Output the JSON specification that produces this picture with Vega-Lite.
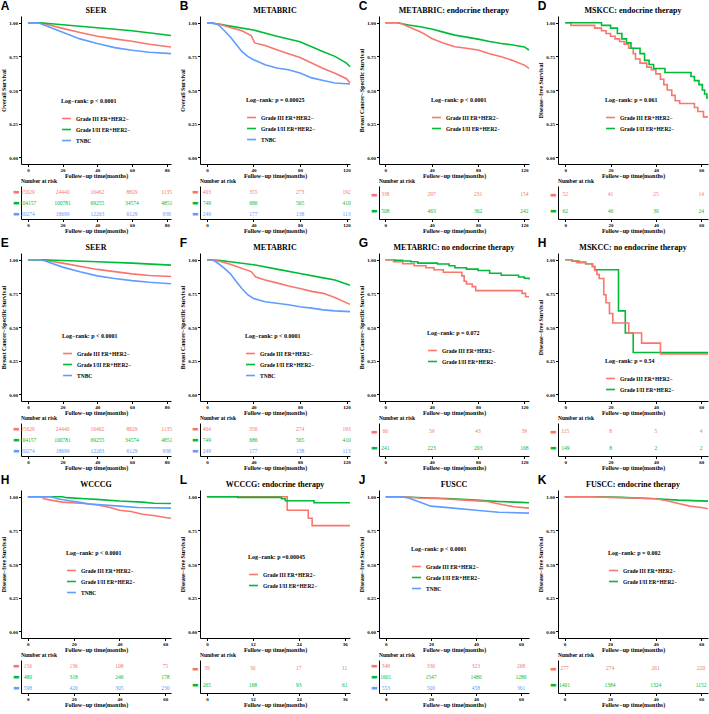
{
"$schema": "https://vega.github.io/schema/vega-lite/v6.json",
"padding": {"left": 0, "right": 0, "top": 0, "bottom": 0},
"background": "white",
"config": {
  "font": "Liberation Serif",
  "view": {"stroke": null},
  "axis": {"grid": false, "domainColor": "black", "tickColor": "black", "domainWidth": 1, "tickWidth": 1, "tickSize": 2.5,
    "labelFont": "Liberation Serif", "labelFontWeight": "bold", "labelFontSize": 5, "labelColor": "black", "labelPadding": 1,
    "titleFont": "Liberation Serif", "titleFontWeight": "bold", "titleFontSize": 6, "titleColor": "black"},
  "axisX": {"titlePadding": 0, "labelFlush": false},
  "axisY": {"titlePadding": 2},
  "title": {"font": "Liberation Serif", "fontWeight": "bold", "fontSize": 8, "color": "black", "offset": 1},
  "legend": {"orient": "none", "symbolType": "stroke", "symbolStrokeWidth": 2, "symbolSize": 80, "labelFont": "Liberation Serif", "labelFontWeight": "bold", "labelFontSize": 5.5, "labelColor": "black", "titleFont": "Liberation Serif", "titleFontSize": 6, "titleFontWeight": "bold", "titleColor": "black", "rowPadding": 2, "titlePadding": 9, "labelOffset": 4, "titleLimit": 300, "labelLimit": 300},
  "line": {"strokeWidth": 1.6, "clip": true},
  "text": {"font": "Liberation Serif", "fontSize": 5.5}
},
"datasets": {
"km": [
{"p":"A","g":"III","t":0,"s":1},{"p":"A","g":"III","t":7,"s":1},{"p":"A","g":"III","t":10,"s":0.99},{"p":"A","g":"III","t":20,"s":0.958},{"p":"A","g":"III","t":30,"s":0.927},{"p":"A","g":"III","t":40,"s":0.9},{"p":"A","g":"III","t":50,"s":0.88},{"p":"A","g":"III","t":60,"s":0.862},{"p":"A","g":"III","t":70,"s":0.84},{"p":"A","g":"III","t":82.5,"s":0.82},
{"p":"A","g":"I/II","t":0,"s":1},{"p":"A","g":"I/II","t":7,"s":1},{"p":"A","g":"I/II","t":20,"s":0.985},{"p":"A","g":"I/II","t":40,"s":0.963},{"p":"A","g":"I/II","t":60,"s":0.94},{"p":"A","g":"I/II","t":82.5,"s":0.905},
{"p":"A","g":"TNBC","t":0,"s":1},{"p":"A","g":"TNBC","t":6,"s":1},{"p":"A","g":"TNBC","t":10,"s":0.98},{"p":"A","g":"TNBC","t":20,"s":0.93},{"p":"A","g":"TNBC","t":30,"s":0.88},{"p":"A","g":"TNBC","t":40,"s":0.845},{"p":"A","g":"TNBC","t":50,"s":0.815},{"p":"A","g":"TNBC","t":60,"s":0.795},{"p":"A","g":"TNBC","t":70,"s":0.78},{"p":"A","g":"TNBC","t":82.5,"s":0.77},

{"p":"E","g":"III","t":0,"s":1},{"p":"E","g":"III","t":8,"s":1},{"p":"E","g":"III","t":20,"s":0.975},{"p":"E","g":"III","t":40,"s":0.928},{"p":"E","g":"III","t":60,"s":0.895},{"p":"E","g":"III","t":70,"s":0.883},{"p":"E","g":"III","t":82.5,"s":0.875},
{"p":"E","g":"I/II","t":0,"s":1},{"p":"E","g":"I/II","t":8,"s":1},{"p":"E","g":"I/II","t":40,"s":0.985},{"p":"E","g":"I/II","t":60,"s":0.975},{"p":"E","g":"I/II","t":82.5,"s":0.96},
{"p":"E","g":"TNBC","t":0,"s":1},{"p":"E","g":"TNBC","t":7,"s":1},{"p":"E","g":"TNBC","t":10,"s":0.99},{"p":"E","g":"TNBC","t":20,"s":0.945},{"p":"E","g":"TNBC","t":30,"s":0.91},{"p":"E","g":"TNBC","t":40,"s":0.88},{"p":"E","g":"TNBC","t":50,"s":0.86},{"p":"E","g":"TNBC","t":60,"s":0.845},{"p":"E","g":"TNBC","t":70,"s":0.833},{"p":"E","g":"TNBC","t":82.5,"s":0.822},

{"p":"B","g":"I/II","t":0,"s":1},{"p":"B","g":"I/II","t":10,"s":0.99},{"p":"B","g":"I/II","t":20,"s":0.975},{"p":"B","g":"I/II","t":40,"s":0.946},{"p":"B","g":"I/II","t":60,"s":0.9},{"p":"B","g":"I/II","t":80,"s":0.859},{"p":"B","g":"I/II","t":100,"s":0.785},{"p":"B","g":"I/II","t":110,"s":0.75},{"p":"B","g":"I/II","t":120,"s":0.7},{"p":"B","g":"I/II","t":123,"s":0.673},
{"p":"B","g":"III","t":0,"s":1},{"p":"B","g":"III","t":10,"s":0.99},{"p":"B","g":"III","t":20,"s":0.965},{"p":"B","g":"III","t":30,"s":0.94},{"p":"B","g":"III","t":38,"s":0.905},{"p":"B","g":"III","t":41,"s":0.85},{"p":"B","g":"III","t":50,"s":0.83},{"p":"B","g":"III","t":60,"s":0.8},{"p":"B","g":"III","t":70,"s":0.77},{"p":"B","g":"III","t":80,"s":0.742},{"p":"B","g":"III","t":90,"s":0.7},{"p":"B","g":"III","t":100,"s":0.66},{"p":"B","g":"III","t":110,"s":0.625},{"p":"B","g":"III","t":120,"s":0.584},{"p":"B","g":"III","t":123,"s":0.552},
{"p":"B","g":"TNBC","t":0,"s":1},{"p":"B","g":"TNBC","t":5,"s":1},{"p":"B","g":"TNBC","t":10,"s":0.983},{"p":"B","g":"TNBC","t":15,"s":0.94},{"p":"B","g":"TNBC","t":20,"s":0.896},{"p":"B","g":"TNBC","t":25,"s":0.84},{"p":"B","g":"TNBC","t":30,"s":0.787},{"p":"B","g":"TNBC","t":35,"s":0.75},{"p":"B","g":"TNBC","t":40,"s":0.725},{"p":"B","g":"TNBC","t":50,"s":0.688},{"p":"B","g":"TNBC","t":60,"s":0.663},{"p":"B","g":"TNBC","t":70,"s":0.65},{"p":"B","g":"TNBC","t":80,"s":0.626},{"p":"B","g":"TNBC","t":90,"s":0.59},{"p":"B","g":"TNBC","t":100,"s":0.57},{"p":"B","g":"TNBC","t":110,"s":0.552},{"p":"B","g":"TNBC","t":123,"s":0.545},

{"p":"F","g":"I/II","t":0,"s":1},{"p":"F","g":"I/II","t":10,"s":0.995},{"p":"F","g":"I/II","t":20,"s":0.985},{"p":"F","g":"I/II","t":40,"s":0.963},{"p":"F","g":"I/II","t":60,"s":0.93},{"p":"F","g":"I/II","t":80,"s":0.897},{"p":"F","g":"I/II","t":100,"s":0.865},{"p":"F","g":"I/II","t":110,"s":0.85},{"p":"F","g":"I/II","t":123,"s":0.811},
{"p":"F","g":"III","t":0,"s":1},{"p":"F","g":"III","t":10,"s":0.99},{"p":"F","g":"III","t":20,"s":0.966},{"p":"F","g":"III","t":38,"s":0.912},{"p":"F","g":"III","t":42,"s":0.872},{"p":"F","g":"III","t":50,"s":0.85},{"p":"F","g":"III","t":60,"s":0.828},{"p":"F","g":"III","t":70,"s":0.805},{"p":"F","g":"III","t":80,"s":0.786},{"p":"F","g":"III","t":90,"s":0.765},{"p":"F","g":"III","t":100,"s":0.75},{"p":"F","g":"III","t":110,"s":0.72},{"p":"F","g":"III","t":123,"s":0.668},
{"p":"F","g":"TNBC","t":0,"s":1},{"p":"F","g":"TNBC","t":5,"s":1},{"p":"F","g":"TNBC","t":10,"s":0.97},{"p":"F","g":"TNBC","t":15,"s":0.935},{"p":"F","g":"TNBC","t":20,"s":0.897},{"p":"F","g":"TNBC","t":25,"s":0.84},{"p":"F","g":"TNBC","t":30,"s":0.786},{"p":"F","g":"TNBC","t":35,"s":0.74},{"p":"F","g":"TNBC","t":40,"s":0.712},{"p":"F","g":"TNBC","t":50,"s":0.688},{"p":"F","g":"TNBC","t":60,"s":0.676},{"p":"F","g":"TNBC","t":70,"s":0.665},{"p":"F","g":"TNBC","t":80,"s":0.651},{"p":"F","g":"TNBC","t":90,"s":0.64},{"p":"F","g":"TNBC","t":100,"s":0.627},{"p":"F","g":"TNBC","t":110,"s":0.62},{"p":"F","g":"TNBC","t":123,"s":0.614},

{"p":"C","g":"I/II","t":0,"s":1},{"p":"C","g":"I/II","t":10,"s":1},{"p":"C","g":"I/II","t":20,"s":0.983},{"p":"C","g":"I/II","t":30,"s":0.97},{"p":"C","g":"I/II","t":40,"s":0.953},{"p":"C","g":"I/II","t":50,"s":0.93},{"p":"C","g":"I/II","t":60,"s":0.908},{"p":"C","g":"I/II","t":70,"s":0.893},{"p":"C","g":"I/II","t":80,"s":0.878},{"p":"C","g":"I/II","t":90,"s":0.86},{"p":"C","g":"I/II","t":100,"s":0.846},{"p":"C","g":"I/II","t":110,"s":0.835},{"p":"C","g":"I/II","t":120,"s":0.82},{"p":"C","g":"I/II","t":124,"s":0.797},
{"p":"C","g":"III","t":0,"s":1},{"p":"C","g":"III","t":12,"s":1},{"p":"C","g":"III","t":20,"s":0.97},{"p":"C","g":"III","t":30,"s":0.933},{"p":"C","g":"III","t":35,"s":0.91},{"p":"C","g":"III","t":40,"s":0.883},{"p":"C","g":"III","t":50,"s":0.85},{"p":"C","g":"III","t":60,"s":0.821},{"p":"C","g":"III","t":70,"s":0.81},{"p":"C","g":"III","t":80,"s":0.797},{"p":"C","g":"III","t":90,"s":0.77},{"p":"C","g":"III","t":100,"s":0.747},{"p":"C","g":"III","t":110,"s":0.72},{"p":"C","g":"III","t":120,"s":0.685},{"p":"C","g":"III","t":124,"s":0.66},

{"p":"G","g":"I/II","t":0,"s":1},{"p":"G","g":"I/II","t":8,"s":0.995},{"p":"G","g":"I/II","t":15,"s":0.99},{"p":"G","g":"I/II","t":22,"s":0.985},{"p":"G","g":"I/II","t":28,"s":0.975},{"p":"G","g":"I/II","t":45,"s":0.968},{"p":"G","g":"I/II","t":55,"s":0.955},{"p":"G","g":"I/II","t":60,"s":0.94},{"p":"G","g":"I/II","t":70,"s":0.93},{"p":"G","g":"I/II","t":80,"s":0.92},{"p":"G","g":"I/II","t":90,"s":0.9},{"p":"G","g":"I/II","t":100,"s":0.885},{"p":"G","g":"I/II","t":115,"s":0.872},{"p":"G","g":"I/II","t":120,"s":0.862},{"p":"G","g":"I/II","t":124,"s":0.853},
{"p":"G","g":"III","t":0,"s":1},{"p":"G","g":"III","t":7,"s":0.985},{"p":"G","g":"III","t":15,"s":0.97},{"p":"G","g":"III","t":25,"s":0.955},{"p":"G","g":"III","t":35,"s":0.94},{"p":"G","g":"III","t":42,"s":0.925},{"p":"G","g":"III","t":50,"s":0.907},{"p":"G","g":"III","t":66,"s":0.88},{"p":"G","g":"III","t":68,"s":0.84},{"p":"G","g":"III","t":70,"s":0.82},{"p":"G","g":"III","t":75,"s":0.8},{"p":"G","g":"III","t":78,"s":0.77},{"p":"G","g":"III","t":118,"s":0.75},{"p":"G","g":"III","t":121,"s":0.725},{"p":"G","g":"III","t":124,"s":0.725},

{"p":"D","g":"III","t":0,"s":1},{"p":"D","g":"III","t":2.5,"s":0.98},{"p":"D","g":"III","t":13,"s":0.96},{"p":"D","g":"III","t":16,"s":0.94},{"p":"D","g":"III","t":18,"s":0.92},{"p":"D","g":"III","t":20,"s":0.9},{"p":"D","g":"III","t":22,"s":0.88},{"p":"D","g":"III","t":24,"s":0.86},{"p":"D","g":"III","t":26,"s":0.84},{"p":"D","g":"III","t":28,"s":0.81},{"p":"D","g":"III","t":30,"s":0.77},{"p":"D","g":"III","t":31,"s":0.73},{"p":"D","g":"III","t":33,"s":0.7},{"p":"D","g":"III","t":36,"s":0.67},{"p":"D","g":"III","t":38,"s":0.65},{"p":"D","g":"III","t":40,"s":0.62},{"p":"D","g":"III","t":42,"s":0.58},{"p":"D","g":"III","t":43.5,"s":0.54},{"p":"D","g":"III","t":45,"s":0.5},{"p":"D","g":"III","t":47,"s":0.46},{"p":"D","g":"III","t":48.5,"s":0.42},{"p":"D","g":"III","t":50.5,"s":0.4},{"p":"D","g":"III","t":57,"s":0.37},{"p":"D","g":"III","t":58.5,"s":0.34},{"p":"D","g":"III","t":61,"s":0.3},{"p":"D","g":"III","t":63,"s":0.3},
{"p":"D","g":"I/II","t":0,"s":1},{"p":"D","g":"I/II","t":16,"s":0.98},{"p":"D","g":"I/II","t":20,"s":0.96},{"p":"D","g":"I/II","t":23,"s":0.92},{"p":"D","g":"I/II","t":25,"s":0.88},{"p":"D","g":"I/II","t":27,"s":0.85},{"p":"D","g":"I/II","t":29,"s":0.81},{"p":"D","g":"I/II","t":33,"s":0.77},{"p":"D","g":"I/II","t":35,"s":0.72},{"p":"D","g":"I/II","t":37,"s":0.69},{"p":"D","g":"I/II","t":39,"s":0.66},{"p":"D","g":"I/II","t":44,"s":0.63},{"p":"D","g":"I/II","t":55.5,"s":0.6},{"p":"D","g":"I/II","t":57,"s":0.57},{"p":"D","g":"I/II","t":59,"s":0.54},{"p":"D","g":"I/II","t":60.5,"s":0.5},{"p":"D","g":"I/II","t":61.5,"s":0.47},{"p":"D","g":"I/II","t":62.5,"s":0.44},{"p":"D","g":"I/II","t":63,"s":0.44},

{"p":"H","g":"I/II","t":0,"s":1},{"p":"H","g":"I/II","t":3,"s":0.99},{"p":"H","g":"I/II","t":6,"s":0.98},{"p":"H","g":"I/II","t":9,"s":0.97},{"p":"H","g":"I/II","t":12,"s":0.95},{"p":"H","g":"I/II","t":13,"s":0.925},{"p":"H","g":"I/II","t":23.5,"s":0.62},{"p":"H","g":"I/II","t":26.5,"s":0.455},{"p":"H","g":"I/II","t":30,"s":0.31},{"p":"H","g":"I/II","t":63,"s":0.31},
{"p":"H","g":"III","t":0,"s":1},{"p":"H","g":"III","t":3,"s":0.99},{"p":"H","g":"III","t":5,"s":0.98},{"p":"H","g":"III","t":9,"s":0.97},{"p":"H","g":"III","t":12,"s":0.95},{"p":"H","g":"III","t":13,"s":0.92},{"p":"H","g":"III","t":14,"s":0.89},{"p":"H","g":"III","t":15,"s":0.86},{"p":"H","g":"III","t":17,"s":0.74},{"p":"H","g":"III","t":18,"s":0.68},{"p":"H","g":"III","t":19.5,"s":0.6},{"p":"H","g":"III","t":21,"s":0.53},{"p":"H","g":"III","t":28,"s":0.455},{"p":"H","g":"III","t":33.7,"s":0.38},{"p":"H","g":"III","t":42,"s":0.3},{"p":"H","g":"III","t":63,"s":0.3},

{"p":"H2","g":"I/II","t":0,"s":1},{"p":"H2","g":"I/II","t":15,"s":1},{"p":"H2","g":"I/II","t":17,"s":0.993},{"p":"H2","g":"I/II","t":25,"s":0.985},{"p":"H2","g":"I/II","t":30,"s":0.98},{"p":"H2","g":"I/II","t":40,"s":0.968},{"p":"H2","g":"I/II","t":50,"s":0.96},{"p":"H2","g":"I/II","t":55,"s":0.952},{"p":"H2","g":"I/II","t":62.5,"s":0.95},
{"p":"H2","g":"III","t":0,"s":1},{"p":"H2","g":"III","t":6,"s":1},{"p":"H2","g":"III","t":7,"s":0.985},{"p":"H2","g":"III","t":10,"s":0.975},{"p":"H2","g":"III","t":15,"s":0.96},{"p":"H2","g":"III","t":25,"s":0.95},{"p":"H2","g":"III","t":30,"s":0.94},{"p":"H2","g":"III","t":36,"s":0.92},{"p":"H2","g":"III","t":40,"s":0.9},{"p":"H2","g":"III","t":45,"s":0.89},{"p":"H2","g":"III","t":50,"s":0.87},{"p":"H2","g":"III","t":55,"s":0.86},{"p":"H2","g":"III","t":60,"s":0.845},{"p":"H2","g":"III","t":62.5,"s":0.84},
{"p":"H2","g":"TNBC","t":0,"s":1},{"p":"H2","g":"TNBC","t":10,"s":1},{"p":"H2","g":"TNBC","t":13,"s":0.985},{"p":"H2","g":"TNBC","t":18,"s":0.97},{"p":"H2","g":"TNBC","t":22,"s":0.96},{"p":"H2","g":"TNBC","t":27,"s":0.945},{"p":"H2","g":"TNBC","t":32,"s":0.94},{"p":"H2","g":"TNBC","t":40,"s":0.93},{"p":"H2","g":"TNBC","t":48,"s":0.92},{"p":"H2","g":"TNBC","t":62.5,"s":0.915},

{"p":"L","g":"III","t":0,"s":1},{"p":"L","g":"III","t":21,"s":0.9},{"p":"L","g":"III","t":26.5,"s":0.84},{"p":"L","g":"III","t":27.5,"s":0.785},{"p":"L","g":"III","t":37.4,"s":0.785},
{"p":"L","g":"I/II","t":0,"s":1},{"p":"L","g":"I/II","t":8,"s":0.995},{"p":"L","g":"I/II","t":19.5,"s":0.985},{"p":"L","g":"I/II","t":20.5,"s":0.97},{"p":"L","g":"I/II","t":28,"s":0.955},{"p":"L","g":"I/II","t":37.4,"s":0.955},

{"p":"J","g":"I/II","t":0,"s":1},{"p":"J","g":"I/II","t":5,"s":1},{"p":"J","g":"I/II","t":20,"s":0.99},{"p":"J","g":"I/II","t":30,"s":0.985},{"p":"J","g":"I/II","t":40,"s":0.975},{"p":"J","g":"I/II","t":50,"s":0.965},{"p":"J","g":"I/II","t":60,"s":0.958},{"p":"J","g":"I/II","t":63.5,"s":0.955},
{"p":"J","g":"III","t":0,"s":1},{"p":"J","g":"III","t":8,"s":1},{"p":"J","g":"III","t":15,"s":0.99},{"p":"J","g":"III","t":25,"s":0.985},{"p":"J","g":"III","t":35,"s":0.975},{"p":"J","g":"III","t":45,"s":0.965},{"p":"J","g":"III","t":52,"s":0.94},{"p":"J","g":"III","t":57,"s":0.925},{"p":"J","g":"III","t":63.5,"s":0.915},
{"p":"J","g":"TNBC","t":0,"s":1},{"p":"J","g":"TNBC","t":7,"s":1},{"p":"J","g":"TNBC","t":10,"s":0.99},{"p":"J","g":"TNBC","t":15,"s":0.96},{"p":"J","g":"TNBC","t":20,"s":0.93},{"p":"J","g":"TNBC","t":30,"s":0.915},{"p":"J","g":"TNBC","t":40,"s":0.9},{"p":"J","g":"TNBC","t":50,"s":0.885},{"p":"J","g":"TNBC","t":63.5,"s":0.878},

{"p":"K","g":"I/II","t":0,"s":1},{"p":"K","g":"I/II","t":15,"s":1},{"p":"K","g":"I/II","t":25,"s":0.995},{"p":"K","g":"I/II","t":40,"s":0.985},{"p":"K","g":"I/II","t":50,"s":0.975},{"p":"K","g":"I/II","t":63,"s":0.967},
{"p":"K","g":"III","t":0,"s":1},{"p":"K","g":"III","t":12,"s":1},{"p":"K","g":"III","t":20,"s":0.995},{"p":"K","g":"III","t":30,"s":0.99},{"p":"K","g":"III","t":40,"s":0.985},{"p":"K","g":"III","t":45,"s":0.97},{"p":"K","g":"III","t":50,"s":0.95},{"p":"K","g":"III","t":55,"s":0.93},{"p":"K","g":"III","t":60,"s":0.92},{"p":"K","g":"III","t":63,"s":0.91}
],
"risk": [
{"p":"A","g":"III","t":0,"n":25629},{"p":"A","g":"III","t":20,"n":24440},{"p":"A","g":"III","t":40,"n":16462},{"p":"A","g":"III","t":60,"n":8829},{"p":"A","g":"III","t":80,"n":1135},
{"p":"A","g":"I/II","t":0,"n":104157},{"p":"A","g":"I/II","t":20,"n":100781},{"p":"A","g":"I/II","t":40,"n":69255},{"p":"A","g":"I/II","t":60,"n":34574},{"p":"A","g":"I/II","t":80,"n":4851},
{"p":"A","g":"TNBC","t":0,"n":20274},{"p":"A","g":"TNBC","t":20,"n":18699},{"p":"A","g":"TNBC","t":40,"n":12263},{"p":"A","g":"TNBC","t":60,"n":6129},{"p":"A","g":"TNBC","t":80,"n":938},
{"p":"E","g":"III","t":0,"n":25629},{"p":"E","g":"III","t":20,"n":24440},{"p":"E","g":"III","t":40,"n":16462},{"p":"E","g":"III","t":60,"n":8829},{"p":"E","g":"III","t":80,"n":1135},
{"p":"E","g":"I/II","t":0,"n":104157},{"p":"E","g":"I/II","t":20,"n":100781},{"p":"E","g":"I/II","t":40,"n":69255},{"p":"E","g":"I/II","t":60,"n":34574},{"p":"E","g":"I/II","t":80,"n":4851},
{"p":"E","g":"TNBC","t":0,"n":20274},{"p":"E","g":"TNBC","t":20,"n":18699},{"p":"E","g":"TNBC","t":40,"n":12263},{"p":"E","g":"TNBC","t":60,"n":6129},{"p":"E","g":"TNBC","t":80,"n":938},
{"p":"B","g":"III","t":0,"n":403},{"p":"B","g":"III","t":40,"n":355},{"p":"B","g":"III","t":80,"n":273},{"p":"B","g":"III","t":120,"n":192},
{"p":"B","g":"I/II","t":0,"n":749},{"p":"B","g":"I/II","t":40,"n":686},{"p":"B","g":"I/II","t":80,"n":565},{"p":"B","g":"I/II","t":120,"n":410},
{"p":"B","g":"TNBC","t":0,"n":249},{"p":"B","g":"TNBC","t":40,"n":177},{"p":"B","g":"TNBC","t":80,"n":138},{"p":"B","g":"TNBC","t":120,"n":113},
{"p":"F","g":"III","t":0,"n":404},{"p":"F","g":"III","t":40,"n":356},{"p":"F","g":"III","t":80,"n":274},{"p":"F","g":"III","t":120,"n":193},
{"p":"F","g":"I/II","t":0,"n":749},{"p":"F","g":"I/II","t":40,"n":686},{"p":"F","g":"I/II","t":80,"n":565},{"p":"F","g":"I/II","t":120,"n":410},
{"p":"F","g":"TNBC","t":0,"n":249},{"p":"F","g":"TNBC","t":40,"n":177},{"p":"F","g":"TNBC","t":80,"n":138},{"p":"F","g":"TNBC","t":120,"n":113},
{"p":"C","g":"III","t":0,"n":338},{"p":"C","g":"III","t":40,"n":297},{"p":"C","g":"III","t":80,"n":231},{"p":"C","g":"III","t":120,"n":154},
{"p":"C","g":"I/II","t":0,"n":508},{"p":"C","g":"I/II","t":40,"n":463},{"p":"C","g":"I/II","t":80,"n":362},{"p":"C","g":"I/II","t":120,"n":242},
{"p":"G","g":"III","t":0,"n":66},{"p":"G","g":"III","t":40,"n":59},{"p":"G","g":"III","t":80,"n":43},{"p":"G","g":"III","t":120,"n":39},
{"p":"G","g":"I/II","t":0,"n":241},{"p":"G","g":"I/II","t":40,"n":223},{"p":"G","g":"I/II","t":80,"n":203},{"p":"G","g":"I/II","t":120,"n":168},
{"p":"D","g":"III","t":0,"n":52},{"p":"D","g":"III","t":20,"n":41},{"p":"D","g":"III","t":40,"n":25},{"p":"D","g":"III","t":60,"n":14},
{"p":"D","g":"I/II","t":0,"n":62},{"p":"D","g":"I/II","t":20,"n":46},{"p":"D","g":"I/II","t":40,"n":30},{"p":"D","g":"I/II","t":60,"n":24},
{"p":"H","g":"III","t":0,"n":115},{"p":"H","g":"III","t":20,"n":8},{"p":"H","g":"III","t":40,"n":5},{"p":"H","g":"III","t":60,"n":4},
{"p":"H","g":"I/II","t":0,"n":149},{"p":"H","g":"I/II","t":20,"n":8},{"p":"H","g":"I/II","t":40,"n":2},{"p":"H","g":"I/II","t":60,"n":2},
{"p":"H2","g":"III","t":0,"n":156},{"p":"H2","g":"III","t":20,"n":136},{"p":"H2","g":"III","t":40,"n":108},{"p":"H2","g":"III","t":60,"n":75},
{"p":"H2","g":"I/II","t":0,"n":480},{"p":"H2","g":"I/II","t":20,"n":318},{"p":"H2","g":"I/II","t":40,"n":246},{"p":"H2","g":"I/II","t":60,"n":178},
{"p":"H2","g":"TNBC","t":0,"n":598},{"p":"H2","g":"TNBC","t":20,"n":420},{"p":"H2","g":"TNBC","t":40,"n":305},{"p":"H2","g":"TNBC","t":60,"n":230},
{"p":"L","g":"III","t":0,"n":39},{"p":"L","g":"III","t":12,"n":30},{"p":"L","g":"III","t":24,"n":17},{"p":"L","g":"III","t":36,"n":11},
{"p":"L","g":"I/II","t":0,"n":265},{"p":"L","g":"I/II","t":12,"n":168},{"p":"L","g":"I/II","t":24,"n":93},{"p":"L","g":"I/II","t":36,"n":61},
{"p":"J","g":"III","t":0,"n":348},{"p":"J","g":"III","t":20,"n":336},{"p":"J","g":"III","t":40,"n":323},{"p":"J","g":"III","t":60,"n":268},
{"p":"J","g":"I/II","t":0,"n":1601},{"p":"J","g":"I/II","t":20,"n":1547},{"p":"J","g":"I/II","t":40,"n":1480},{"p":"J","g":"I/II","t":60,"n":1280},
{"p":"J","g":"TNBC","t":0,"n":553},{"p":"J","g":"TNBC","t":20,"n":500},{"p":"J","g":"TNBC","t":40,"n":458},{"p":"J","g":"TNBC","t":60,"n":361},
{"p":"K","g":"III","t":0,"n":277},{"p":"K","g":"III","t":20,"n":274},{"p":"K","g":"III","t":40,"n":261},{"p":"K","g":"III","t":60,"n":220},
{"p":"K","g":"I/II","t":0,"n":1401},{"p":"K","g":"I/II","t":20,"n":1384},{"p":"K","g":"I/II","t":40,"n":1324},{"p":"K","g":"I/II","t":60,"n":1152}
]
},
"spacing": 3,
"resolve": {"scale": {"color": "independent"}, "legend": {"color": "independent"}},
"vconcat": [
{"spacing": 4, "resolve": {"scale": {"color": "independent"}, "legend": {"color": "independent"}}, "hconcat": [
 {"title": {"text": "A", "anchor": "start", "font": "Liberation Sans", "fontSize": 12, "fontWeight": "bold", "offset": -6},
  "spacing": 22, "bounds": "flush", "resolve": {"scale": {"color": "independent"}, "legend": {"color": "independent"}},
  "vconcat": [
   {"title": "SEER", "width": 150, "height": 148, "data": {"name": "km"}, "transform": [{"filter": "datum.p === 'A'"}],
    "mark": {"type": "line", "interpolate": "linear"},
    "encoding": {
     "x": {"field": "t", "type": "quantitative", "scale": {"domain": [-4, 82.5], "nice": false, "zero": false}, "axis": {"values": [0,20,40,60,80], "title": "Follow−up time(months)"}},
     "y": {"field": "s", "type": "quantitative", "scale": {"domain": [-0.05, 1.05], "nice": false, "zero": false}, "axis": {"values": [0,0.25,0.5,0.75,1], "format": ".2f", "title": "Overall Survival"}},
     "color": {"field": "g", "type": "nominal", "scale": {"domain": ["III","I/II","TNBC"], "range": ["#F8766D","#00BA38","#619CFF"]}, "legend": {"title": "Log−rank: p < 0.0001", "legendX": 40, "legendY": 82, "labelExpr": "datum.label == 'TNBC' ? 'TNBC' : 'Grade ' + datum.label + ' ER+HER2−'"}}}},
   {"title": {"text": "Number at risk", "anchor": "start", "frame": "group", "fontSize": 5.5, "offset": 2},
    "width": 150, "height": 33, "data": {"name": "risk"}, "transform": [{"filter": "datum.p === 'A'"}],
    "mark": {"type": "text"},
    "encoding": {
     "x": {"field": "t", "type": "quantitative", "scale": {"domain": [-4, 82.5], "nice": false, "zero": false}, "axis": {"values": [0,20,40,60,80], "title": "Follow−up time(months)"}},
     "y": {"field": "g", "type": "nominal", "scale": {"domain": ["III","I/II","TNBC"]}, "axis": {"title": null, "ticks": false, "labelExpr": "'▬'", "labelFont": "DejaVu Sans", "labelFontSize": 7, "labelPadding": 2, "labelColor": {"condition": [{"test": "datum.value === 'III'", "value": "#F8766D"}, {"test": "datum.value === 'TNBC'", "value": "#619CFF"}], "value": "#00BA38"}}},
     "text": {"field": "n", "type": "quantitative", "format": "d"},
     "color": {"field": "g", "type": "nominal", "scale": {"domain": ["III","I/II","TNBC"], "range": ["#F8766D","#00BA38","#619CFF"]}, "legend": null}}}
  ]},
 {"title": {"text": "B", "anchor": "start", "font": "Liberation Sans", "fontSize": 12, "fontWeight": "bold", "offset": -6},
  "spacing": 22, "bounds": "flush", "resolve": {"scale": {"color": "independent"}, "legend": {"color": "independent"}},
  "vconcat": [
   {"title": "METABRIC", "width": 150, "height": 148, "data": {"name": "km"}, "transform": [{"filter": "datum.p === 'B'"}],
    "mark": {"type": "line", "interpolate": "linear"},
    "encoding": {
     "x": {"field": "t", "type": "quantitative", "scale": {"domain": [-6, 123], "nice": false, "zero": false}, "axis": {"values": [0,40,80,120], "title": "Follow−up time(months)"}},
     "y": {"field": "s", "type": "quantitative", "scale": {"domain": [-0.05, 1.05], "nice": false, "zero": false}, "axis": {"values": [0,0.25,0.5,0.75,1], "format": ".2f", "title": "Overall Survival"}},
     "color": {"field": "g", "type": "nominal", "scale": {"domain": ["III","I/II","TNBC"], "range": ["#F8766D","#00BA38","#619CFF"]}, "legend": {"title": "Log−rank: p = 0.00025", "legendX": 46, "legendY": 81, "labelExpr": "datum.label == 'TNBC' ? 'TNBC' : 'Grade ' + datum.label + ' ER+HER2−'"}}}},
   {"title": {"text": "Number at risk", "anchor": "start", "frame": "group", "fontSize": 5.5, "offset": 2},
    "width": 150, "height": 33, "data": {"name": "risk"}, "transform": [{"filter": "datum.p === 'B'"}],
    "mark": {"type": "text"},
    "encoding": {
     "x": {"field": "t", "type": "quantitative", "scale": {"domain": [-6, 123], "nice": false, "zero": false}, "axis": {"values": [0,40,80,120], "title": "Follow−up time(months)"}},
     "y": {"field": "g", "type": "nominal", "scale": {"domain": ["III","I/II","TNBC"]}, "axis": {"title": null, "ticks": false, "labelExpr": "'▬'", "labelFont": "DejaVu Sans", "labelFontSize": 7, "labelPadding": 2, "labelColor": {"condition": [{"test": "datum.value === 'III'", "value": "#F8766D"}, {"test": "datum.value === 'TNBC'", "value": "#619CFF"}], "value": "#00BA38"}}},
     "text": {"field": "n", "type": "quantitative", "format": "d"},
     "color": {"field": "g", "type": "nominal", "scale": {"domain": ["III","I/II","TNBC"], "range": ["#F8766D","#00BA38","#619CFF"]}, "legend": null}}}
  ]},
 {"title": {"text": "C", "anchor": "start", "font": "Liberation Sans", "fontSize": 12, "fontWeight": "bold", "offset": -6},
  "spacing": 22, "bounds": "flush", "resolve": {"scale": {"color": "independent"}, "legend": {"color": "independent"}},
  "vconcat": [
   {"title": "METABRIC: endocrine therapy", "width": 150, "height": 148, "data": {"name": "km"}, "transform": [{"filter": "datum.p === 'C'"}],
    "mark": {"type": "line", "interpolate": "linear"},
    "encoding": {
     "x": {"field": "t", "type": "quantitative", "scale": {"domain": [-5.5, 124], "nice": false, "zero": false}, "axis": {"values": [0,40,80,120], "title": "Follow−up time(months)"}},
     "y": {"field": "s", "type": "quantitative", "scale": {"domain": [-0.05, 1.05], "nice": false, "zero": false}, "axis": {"values": [0,0.25,0.5,0.75,1], "format": ".2f", "title": "Breast Cancer−Specific Survival"}},
     "color": {"field": "g", "type": "nominal", "scale": {"domain": ["III","I/II"], "range": ["#F8766D","#00BA38"]}, "legend": {"title": "Log−rank: p < 0.0001", "legendX": 52, "legendY": 81, "labelExpr": "'Grade ' + datum.label + ' ER+HER2−'"}}}},
   {"title": {"text": "Number at risk", "anchor": "start", "frame": "group", "fontSize": 5.5, "offset": 2},
    "width": 150, "height": 33, "data": {"name": "risk"}, "transform": [{"filter": "datum.p === 'C'"}],
    "mark": {"type": "text"},
    "encoding": {
     "x": {"field": "t", "type": "quantitative", "scale": {"domain": [-5.5, 124], "nice": false, "zero": false}, "axis": {"values": [0,40,80,120], "title": "Follow−up time(months)"}},
     "y": {"field": "g", "type": "nominal", "scale": {"domain": ["III","I/II"]}, "axis": {"title": null, "ticks": false, "labelExpr": "'▬'", "labelFont": "DejaVu Sans", "labelFontSize": 7, "labelPadding": 2, "labelColor": {"condition": [{"test": "datum.value === 'III'", "value": "#F8766D"}], "value": "#00BA38"}}},
     "text": {"field": "n", "type": "quantitative", "format": "d"},
     "color": {"field": "g", "type": "nominal", "scale": {"domain": ["III","I/II"], "range": ["#F8766D","#00BA38"]}, "legend": null}}}
  ]},
 {"title": {"text": "D", "anchor": "start", "font": "Liberation Sans", "fontSize": 12, "fontWeight": "bold", "offset": -6},
  "spacing": 22, "bounds": "flush", "resolve": {"scale": {"color": "independent"}, "legend": {"color": "independent"}},
  "vconcat": [
   {"title": "MSKCC: endocrine therapy", "width": 150, "height": 148, "data": {"name": "km"}, "transform": [{"filter": "datum.p === 'D'"}],
    "mark": {"type": "line", "interpolate": "step-after"},
    "encoding": {
     "x": {"field": "t", "type": "quantitative", "scale": {"domain": [-3.2, 63], "nice": false, "zero": false}, "axis": {"values": [0,20,40,60], "title": "Follow−up time(months)"}},
     "y": {"field": "s", "type": "quantitative", "scale": {"domain": [-0.05, 1.05], "nice": false, "zero": false}, "axis": {"values": [0,0.25,0.5,0.75,1], "format": ".2f", "title": "Disease−free Survival"}},
     "color": {"field": "g", "type": "nominal", "scale": {"domain": ["III","I/II"], "range": ["#F8766D","#00BA38"]}, "legend": {"title": "Log−rank: p = 0.061", "legendX": 47, "legendY": 81, "labelExpr": "'Grade ' + datum.label + ' ER+HER2−'"}}}},
   {"title": {"text": "Number at risk", "anchor": "start", "frame": "group", "fontSize": 5.5, "offset": 2},
    "width": 150, "height": 33, "data": {"name": "risk"}, "transform": [{"filter": "datum.p === 'D'"}],
    "mark": {"type": "text"},
    "encoding": {
     "x": {"field": "t", "type": "quantitative", "scale": {"domain": [-3.2, 63], "nice": false, "zero": false}, "axis": {"values": [0,20,40,60], "title": "Follow−up time(months)"}},
     "y": {"field": "g", "type": "nominal", "scale": {"domain": ["III","I/II"]}, "axis": {"title": null, "ticks": false, "labelExpr": "'▬'", "labelFont": "DejaVu Sans", "labelFontSize": 7, "labelPadding": 2, "labelColor": {"condition": [{"test": "datum.value === 'III'", "value": "#F8766D"}], "value": "#00BA38"}}},
     "text": {"field": "n", "type": "quantitative", "format": "d"},
     "color": {"field": "g", "type": "nominal", "scale": {"domain": ["III","I/II"], "range": ["#F8766D","#00BA38"]}, "legend": null}}}
  ]}
]},
{"spacing": 4, "resolve": {"scale": {"color": "independent"}, "legend": {"color": "independent"}}, "hconcat": [
 {"title": {"text": "E", "anchor": "start", "font": "Liberation Sans", "fontSize": 12, "fontWeight": "bold", "offset": -6},
  "spacing": 22, "bounds": "flush", "resolve": {"scale": {"color": "independent"}, "legend": {"color": "independent"}},
  "vconcat": [
   {"title": "SEER", "width": 150, "height": 148, "data": {"name": "km"}, "transform": [{"filter": "datum.p === 'E'"}],
    "mark": {"type": "line", "interpolate": "linear"},
    "encoding": {
     "x": {"field": "t", "type": "quantitative", "scale": {"domain": [-4, 82.5], "nice": false, "zero": false}, "axis": {"values": [0,20,40,60,80], "title": "Follow−up time(months)"}},
     "y": {"field": "s", "type": "quantitative", "scale": {"domain": [-0.05, 1.05], "nice": false, "zero": false}, "axis": {"values": [0,0.25,0.5,0.75,1], "format": ".2f", "title": "Breast Cancer−Specific Survival"}},
     "color": {"field": "g", "type": "nominal", "scale": {"domain": ["III","I/II","TNBC"], "range": ["#F8766D","#00BA38","#619CFF"]}, "legend": {"title": "Log−rank: p < 0.0001", "legendX": 41, "legendY": 80, "labelExpr": "datum.label == 'TNBC' ? 'TNBC' : 'Grade ' + datum.label + ' ER+HER2−'"}}}},
   {"title": {"text": "Number at risk", "anchor": "start", "frame": "group", "fontSize": 5.5, "offset": 2},
    "width": 150, "height": 33, "data": {"name": "risk"}, "transform": [{"filter": "datum.p === 'E'"}],
    "mark": {"type": "text"},
    "encoding": {
     "x": {"field": "t", "type": "quantitative", "scale": {"domain": [-4, 82.5], "nice": false, "zero": false}, "axis": {"values": [0,20,40,60,80], "title": "Follow−up time(months)"}},
     "y": {"field": "g", "type": "nominal", "scale": {"domain": ["III","I/II","TNBC"]}, "axis": {"title": null, "ticks": false, "labelExpr": "'▬'", "labelFont": "DejaVu Sans", "labelFontSize": 7, "labelPadding": 2, "labelColor": {"condition": [{"test": "datum.value === 'III'", "value": "#F8766D"}, {"test": "datum.value === 'TNBC'", "value": "#619CFF"}], "value": "#00BA38"}}},
     "text": {"field": "n", "type": "quantitative", "format": "d"},
     "color": {"field": "g", "type": "nominal", "scale": {"domain": ["III","I/II","TNBC"], "range": ["#F8766D","#00BA38","#619CFF"]}, "legend": null}}}
  ]},
 {"title": {"text": "F", "anchor": "start", "font": "Liberation Sans", "fontSize": 12, "fontWeight": "bold", "offset": -6},
  "spacing": 22, "bounds": "flush", "resolve": {"scale": {"color": "independent"}, "legend": {"color": "independent"}},
  "vconcat": [
   {"title": "METABRIC", "width": 150, "height": 148, "data": {"name": "km"}, "transform": [{"filter": "datum.p === 'F'"}],
    "mark": {"type": "line", "interpolate": "linear"},
    "encoding": {
     "x": {"field": "t", "type": "quantitative", "scale": {"domain": [-6, 123], "nice": false, "zero": false}, "axis": {"values": [0,40,80,120], "title": "Follow−up time(months)"}},
     "y": {"field": "s", "type": "quantitative", "scale": {"domain": [-0.05, 1.05], "nice": false, "zero": false}, "axis": {"values": [0,0.25,0.5,0.75,1], "format": ".2f", "title": "Breast Cancer−Specific Survival"}},
     "color": {"field": "g", "type": "nominal", "scale": {"domain": ["III","I/II","TNBC"], "range": ["#F8766D","#00BA38","#619CFF"]}, "legend": {"title": "Log−rank: p < 0.0001", "legendX": 45, "legendY": 80, "labelExpr": "datum.label == 'TNBC' ? 'TNBC' : 'Grade ' + datum.label + ' ER+HER2−'"}}}},
   {"title": {"text": "Number at risk", "anchor": "start", "frame": "group", "fontSize": 5.5, "offset": 2},
    "width": 150, "height": 33, "data": {"name": "risk"}, "transform": [{"filter": "datum.p === 'F'"}],
    "mark": {"type": "text"},
    "encoding": {
     "x": {"field": "t", "type": "quantitative", "scale": {"domain": [-6, 123], "nice": false, "zero": false}, "axis": {"values": [0,40,80,120], "title": "Follow−up time(months)"}},
     "y": {"field": "g", "type": "nominal", "scale": {"domain": ["III","I/II","TNBC"]}, "axis": {"title": null, "ticks": false, "labelExpr": "'▬'", "labelFont": "DejaVu Sans", "labelFontSize": 7, "labelPadding": 2, "labelColor": {"condition": [{"test": "datum.value === 'III'", "value": "#F8766D"}, {"test": "datum.value === 'TNBC'", "value": "#619CFF"}], "value": "#00BA38"}}},
     "text": {"field": "n", "type": "quantitative", "format": "d"},
     "color": {"field": "g", "type": "nominal", "scale": {"domain": ["III","I/II","TNBC"], "range": ["#F8766D","#00BA38","#619CFF"]}, "legend": null}}}
  ]},
 {"title": {"text": "G", "anchor": "start", "font": "Liberation Sans", "fontSize": 12, "fontWeight": "bold", "offset": -6},
  "spacing": 22, "bounds": "flush", "resolve": {"scale": {"color": "independent"}, "legend": {"color": "independent"}},
  "vconcat": [
   {"title": "METABRIC: no endocrine therapy", "width": 150, "height": 148, "data": {"name": "km"}, "transform": [{"filter": "datum.p === 'G'"}],
    "mark": {"type": "line", "interpolate": "step-after"},
    "encoding": {
     "x": {"field": "t", "type": "quantitative", "scale": {"domain": [-5.5, 124], "nice": false, "zero": false}, "axis": {"values": [0,40,80,120], "title": "Follow−up time(months)"}},
     "y": {"field": "s", "type": "quantitative", "scale": {"domain": [-0.05, 1.05], "nice": false, "zero": false}, "axis": {"values": [0,0.25,0.5,0.75,1], "format": ".2f", "title": "Breast Cancer−Specific Survival"}},
     "color": {"field": "g", "type": "nominal", "scale": {"domain": ["III","I/II"], "range": ["#F8766D","#00BA38"]}, "legend": {"title": "Log−rank: p = 0.072", "legendX": 48, "legendY": 77, "labelExpr": "'Grade ' + datum.label + ' ER+HER2−'"}}}},
   {"title": {"text": "Number at risk", "anchor": "start", "frame": "group", "fontSize": 5.5, "offset": 2},
    "width": 150, "height": 33, "data": {"name": "risk"}, "transform": [{"filter": "datum.p === 'G'"}],
    "mark": {"type": "text"},
    "encoding": {
     "x": {"field": "t", "type": "quantitative", "scale": {"domain": [-5.5, 124], "nice": false, "zero": false}, "axis": {"values": [0,40,80,120], "title": "Follow−up time(months)"}},
     "y": {"field": "g", "type": "nominal", "scale": {"domain": ["III","I/II"]}, "axis": {"title": null, "ticks": false, "labelExpr": "'▬'", "labelFont": "DejaVu Sans", "labelFontSize": 7, "labelPadding": 2, "labelColor": {"condition": [{"test": "datum.value === 'III'", "value": "#F8766D"}], "value": "#00BA38"}}},
     "text": {"field": "n", "type": "quantitative", "format": "d"},
     "color": {"field": "g", "type": "nominal", "scale": {"domain": ["III","I/II"], "range": ["#F8766D","#00BA38"]}, "legend": null}}}
  ]},
 {"title": {"text": "H", "anchor": "start", "font": "Liberation Sans", "fontSize": 12, "fontWeight": "bold", "offset": -6},
  "spacing": 22, "bounds": "flush", "resolve": {"scale": {"color": "independent"}, "legend": {"color": "independent"}},
  "vconcat": [
   {"title": "MSKCC: no endocrine therapy", "width": 150, "height": 148, "data": {"name": "km"}, "transform": [{"filter": "datum.p === 'H'"}],
    "mark": {"type": "line", "interpolate": "step-after"},
    "encoding": {
     "x": {"field": "t", "type": "quantitative", "scale": {"domain": [-3.2, 63], "nice": false, "zero": false}, "axis": {"values": [0,20,40,60], "title": "Follow−up time(months)"}},
     "y": {"field": "s", "type": "quantitative", "scale": {"domain": [-0.05, 1.05], "nice": false, "zero": false}, "axis": {"values": [0,0.25,0.5,0.75,1], "format": ".2f", "title": "Disease−free Survival"}},
     "color": {"field": "g", "type": "nominal", "scale": {"domain": ["III","I/II"], "range": ["#F8766D","#00BA38"]}, "legend": {"title": "Log−rank: p = 0.54", "legendX": 47, "legendY": 105, "labelExpr": "'Grade ' + datum.label + ' ER+HER2−'"}}}},
   {"title": {"text": "Number at risk", "anchor": "start", "frame": "group", "fontSize": 5.5, "offset": 2},
    "width": 150, "height": 33, "data": {"name": "risk"}, "transform": [{"filter": "datum.p === 'H'"}],
    "mark": {"type": "text"},
    "encoding": {
     "x": {"field": "t", "type": "quantitative", "scale": {"domain": [-3.2, 63], "nice": false, "zero": false}, "axis": {"values": [0,20,40,60], "title": "Follow−up time(months)"}},
     "y": {"field": "g", "type": "nominal", "scale": {"domain": ["III","I/II"]}, "axis": {"title": null, "ticks": false, "labelExpr": "'▬'", "labelFont": "DejaVu Sans", "labelFontSize": 7, "labelPadding": 2, "labelColor": {"condition": [{"test": "datum.value === 'III'", "value": "#F8766D"}], "value": "#00BA38"}}},
     "text": {"field": "n", "type": "quantitative", "format": "d"},
     "color": {"field": "g", "type": "nominal", "scale": {"domain": ["III","I/II"], "range": ["#F8766D","#00BA38"]}, "legend": null}}}
  ]}
]},
{"spacing": 4, "resolve": {"scale": {"color": "independent"}, "legend": {"color": "independent"}}, "hconcat": [
 {"title": {"text": "H", "anchor": "start", "font": "Liberation Sans", "fontSize": 12, "fontWeight": "bold", "offset": -6},
  "spacing": 22, "bounds": "flush", "resolve": {"scale": {"color": "independent"}, "legend": {"color": "independent"}},
  "vconcat": [
   {"title": "WCCCG", "width": 150, "height": 148, "data": {"name": "km"}, "transform": [{"filter": "datum.p === 'H2'"}],
    "mark": {"type": "line", "interpolate": "linear"},
    "encoding": {
     "x": {"field": "t", "type": "quantitative", "scale": {"domain": [-3, 62.5], "nice": false, "zero": false}, "axis": {"values": [0,20,40,60], "title": "Follow−up time(months)"}},
     "y": {"field": "s", "type": "quantitative", "scale": {"domain": [-0.05, 1.05], "nice": false, "zero": false}, "axis": {"values": [0,0.25,0.5,0.75,1], "format": ".2f", "title": "Disease−free Survival"}},
     "color": {"field": "g", "type": "nominal", "scale": {"domain": ["III","I/II","TNBC"], "range": ["#F8766D","#00BA38","#619CFF"]}, "legend": {"title": "Log−rank: p < 0.0001", "legendX": 45, "legendY": 60, "labelExpr": "datum.label == 'TNBC' ? 'TNBC' : 'Grade ' + datum.label + ' ER+HER2−'"}}}},
   {"title": {"text": "Number at risk", "anchor": "start", "frame": "group", "fontSize": 5.5, "offset": 2},
    "width": 150, "height": 33, "data": {"name": "risk"}, "transform": [{"filter": "datum.p === 'H2'"}],
    "mark": {"type": "text"},
    "encoding": {
     "x": {"field": "t", "type": "quantitative", "scale": {"domain": [-3, 62.5], "nice": false, "zero": false}, "axis": {"values": [0,20,40,60], "title": "Follow−up time(months)"}},
     "y": {"field": "g", "type": "nominal", "scale": {"domain": ["III","I/II","TNBC"]}, "axis": {"title": null, "ticks": false, "labelExpr": "'▬'", "labelFont": "DejaVu Sans", "labelFontSize": 7, "labelPadding": 2, "labelColor": {"condition": [{"test": "datum.value === 'III'", "value": "#F8766D"}, {"test": "datum.value === 'TNBC'", "value": "#619CFF"}], "value": "#00BA38"}}},
     "text": {"field": "n", "type": "quantitative", "format": "d"},
     "color": {"field": "g", "type": "nominal", "scale": {"domain": ["III","I/II","TNBC"], "range": ["#F8766D","#00BA38","#619CFF"]}, "legend": null}}}
  ]},
 {"title": {"text": "L", "anchor": "start", "font": "Liberation Sans", "fontSize": 12, "fontWeight": "bold", "offset": -6},
  "spacing": 22, "bounds": "flush", "resolve": {"scale": {"color": "independent"}, "legend": {"color": "independent"}},
  "vconcat": [
   {"title": "WCCCG: endocrine therapy", "width": 150, "height": 148, "data": {"name": "km"}, "transform": [{"filter": "datum.p === 'L'"}],
    "mark": {"type": "line", "interpolate": "step-after"},
    "encoding": {
     "x": {"field": "t", "type": "quantitative", "scale": {"domain": [-1.8, 37.4], "nice": false, "zero": false}, "axis": {"values": [0,12,24,36], "title": "Follow−up time(months)"}},
     "y": {"field": "s", "type": "quantitative", "scale": {"domain": [-0.05, 1.05], "nice": false, "zero": false}, "axis": {"values": [0,0.25,0.5,0.75,1], "format": ".2f", "title": "Disease−free Survival"}},
     "color": {"field": "g", "type": "nominal", "scale": {"domain": ["III","I/II"], "range": ["#F8766D","#00BA38"]}, "legend": {"title": "Log−rank: p =0.00045", "legendX": 48, "legendY": 64, "labelExpr": "'Grade ' + datum.label + ' ER+HER2−'"}}}},
   {"title": {"text": "Number at risk", "anchor": "start", "frame": "group", "fontSize": 5.5, "offset": 2},
    "width": 150, "height": 33, "data": {"name": "risk"}, "transform": [{"filter": "datum.p === 'L'"}],
    "mark": {"type": "text"},
    "encoding": {
     "x": {"field": "t", "type": "quantitative", "scale": {"domain": [-1.8, 37.4], "nice": false, "zero": false}, "axis": {"values": [0,12,24,36], "title": "Follow−up time(months)"}},
     "y": {"field": "g", "type": "nominal", "scale": {"domain": ["III","I/II"]}, "axis": {"title": null, "ticks": false, "labelExpr": "'▬'", "labelFont": "DejaVu Sans", "labelFontSize": 7, "labelPadding": 2, "labelColor": {"condition": [{"test": "datum.value === 'III'", "value": "#F8766D"}], "value": "#00BA38"}}},
     "text": {"field": "n", "type": "quantitative", "format": "d"},
     "color": {"field": "g", "type": "nominal", "scale": {"domain": ["III","I/II"], "range": ["#F8766D","#00BA38"]}, "legend": null}}}
  ]},
 {"title": {"text": "J", "anchor": "start", "font": "Liberation Sans", "fontSize": 12, "fontWeight": "bold", "offset": -6},
  "spacing": 22, "bounds": "flush", "resolve": {"scale": {"color": "independent"}, "legend": {"color": "independent"}},
  "vconcat": [
   {"title": "FUSCC", "width": 150, "height": 148, "data": {"name": "km"}, "transform": [{"filter": "datum.p === 'J'"}],
    "mark": {"type": "line", "interpolate": "linear"},
    "encoding": {
     "x": {"field": "t", "type": "quantitative", "scale": {"domain": [-3, 63.5], "nice": false, "zero": false}, "axis": {"values": [0,20,40,60], "title": "Follow−up time(months)"}},
     "y": {"field": "s", "type": "quantitative", "scale": {"domain": [-0.05, 1.05], "nice": false, "zero": false}, "axis": {"values": [0,0.25,0.5,0.75,1], "format": ".2f", "title": "Disease−free Survival"}},
     "color": {"field": "g", "type": "nominal", "scale": {"domain": ["III","I/II","TNBC"], "range": ["#F8766D","#00BA38","#619CFF"]}, "legend": {"title": "Log−rank: p < 0.0001", "legendX": 32, "legendY": 56, "labelExpr": "datum.label == 'TNBC' ? 'TNBC' : 'Grade ' + datum.label + ' ER+HER2−'"}}}},
   {"title": {"text": "Number at risk", "anchor": "start", "frame": "group", "fontSize": 5.5, "offset": 2},
    "width": 150, "height": 33, "data": {"name": "risk"}, "transform": [{"filter": "datum.p === 'J'"}],
    "mark": {"type": "text"},
    "encoding": {
     "x": {"field": "t", "type": "quantitative", "scale": {"domain": [-3, 63.5], "nice": false, "zero": false}, "axis": {"values": [0,20,40,60], "title": "Follow−up time(months)"}},
     "y": {"field": "g", "type": "nominal", "scale": {"domain": ["III","I/II","TNBC"]}, "axis": {"title": null, "ticks": false, "labelExpr": "'▬'", "labelFont": "DejaVu Sans", "labelFontSize": 7, "labelPadding": 2, "labelColor": {"condition": [{"test": "datum.value === 'III'", "value": "#F8766D"}, {"test": "datum.value === 'TNBC'", "value": "#619CFF"}], "value": "#00BA38"}}},
     "text": {"field": "n", "type": "quantitative", "format": "d"},
     "color": {"field": "g", "type": "nominal", "scale": {"domain": ["III","I/II","TNBC"], "range": ["#F8766D","#00BA38","#619CFF"]}, "legend": null}}}
  ]},
 {"title": {"text": "K", "anchor": "start", "font": "Liberation Sans", "fontSize": 12, "fontWeight": "bold", "offset": -6},
  "spacing": 22, "bounds": "flush", "resolve": {"scale": {"color": "independent"}, "legend": {"color": "independent"}},
  "vconcat": [
   {"title": "FUSCC: endocrine therapy", "width": 150, "height": 148, "data": {"name": "km"}, "transform": [{"filter": "datum.p === 'K'"}],
    "mark": {"type": "line", "interpolate": "linear"},
    "encoding": {
     "x": {"field": "t", "type": "quantitative", "scale": {"domain": [-2.9, 63], "nice": false, "zero": false}, "axis": {"values": [0,20,40,60], "title": "Follow−up time(months)"}},
     "y": {"field": "s", "type": "quantitative", "scale": {"domain": [-0.05, 1.05], "nice": false, "zero": false}, "axis": {"values": [0,0.25,0.5,0.75,1], "format": ".2f", "title": "Disease−free Survival"}},
     "color": {"field": "g", "type": "nominal", "scale": {"domain": ["III","I/II"], "range": ["#F8766D","#00BA38"]}, "legend": {"title": "Log−rank: p = 0.002", "legendX": 50, "legendY": 60, "labelExpr": "'Grade ' + datum.label + ' ER+HER2−'"}}}},
   {"title": {"text": "Number at risk", "anchor": "start", "frame": "group", "fontSize": 5.5, "offset": 2},
    "width": 150, "height": 33, "data": {"name": "risk"}, "transform": [{"filter": "datum.p === 'K'"}],
    "mark": {"type": "text"},
    "encoding": {
     "x": {"field": "t", "type": "quantitative", "scale": {"domain": [-2.9, 63], "nice": false, "zero": false}, "axis": {"values": [0,20,40,60], "title": "Follow−up time(months)"}},
     "y": {"field": "g", "type": "nominal", "scale": {"domain": ["III","I/II"]}, "axis": {"title": null, "ticks": false, "labelExpr": "'▬'", "labelFont": "DejaVu Sans", "labelFontSize": 7, "labelPadding": 2, "labelColor": {"condition": [{"test": "datum.value === 'III'", "value": "#F8766D"}], "value": "#00BA38"}}},
     "text": {"field": "n", "type": "quantitative", "format": "d"},
     "color": {"field": "g", "type": "nominal", "scale": {"domain": ["III","I/II"], "range": ["#F8766D","#00BA38"]}, "legend": null}}}
  ]}
]}
]
}
